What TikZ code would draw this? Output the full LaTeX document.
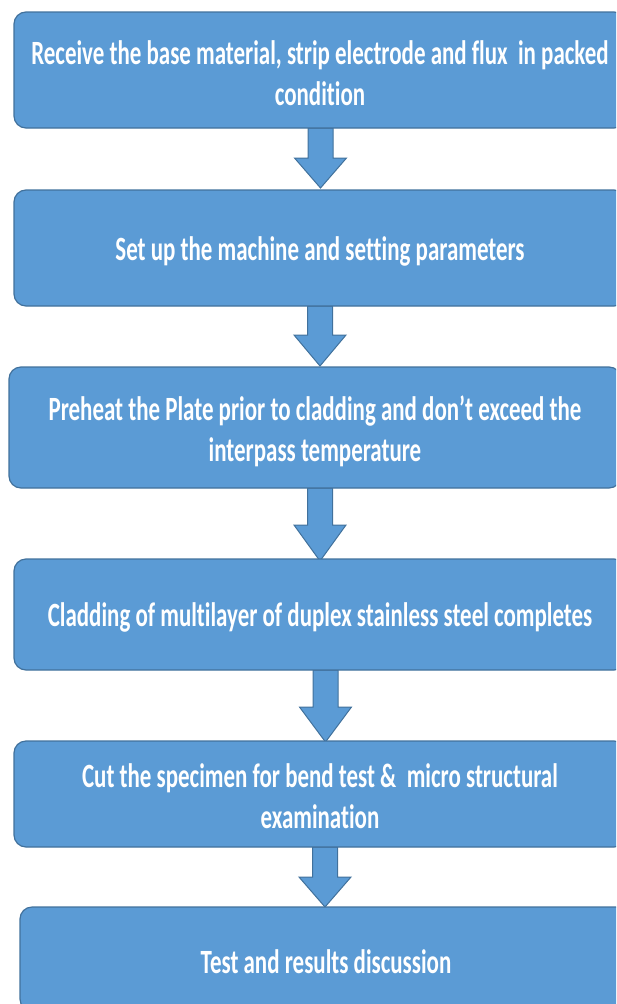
\documentclass[tikz,border=0pt]{standalone}
\usepackage{fontspec}
\newfontfamily\boxfont[FakeStretch=0.675,Ligatures=NoCommon]{Carlito}
\definecolor{boxfill}{HTML}{5B9BD5}
\definecolor{boxline}{HTML}{41719C}
\newcommand{\tstrut}[1]{\rule{0pt}{#1}}
\tikzset{
  stepbox/.style={draw=boxline, fill=boxfill, line width=1.2pt, rounded corners=12pt,
    minimum width=612pt, inner sep=0pt, align=center, text=white,
    font=\boxfont\bfseries\fontsize{34}{41}\selectfont},
  blockarr/.style={draw=boxline, fill=boxfill, line width=1pt, line join=miter}
}
% #1 name, #2 centre x, #3 top y, #4 shaft bottom y, #5 tip y
\newcommand{\blockarrow}[5]{%
  \coordinate (#1t) at (#2,#3);
  \coordinate (#1s) at (#2,#4);
  \coordinate (#1p) at (#2,#5);
  \draw[blockarr] ([xshift=-12.5pt]#1t) -- ([xshift=12.5pt]#1t) -- ([xshift=12.5pt]#1s)
    -- ([xshift=26pt]#1s) -- (#1p) -- ([xshift=-26pt]#1s) -- ([xshift=-12.5pt]#1s) -- cycle;
}
\begin{document}
\begin{tikzpicture}[x=1pt,y=-1pt]
\useasboundingbox (0,0) rectangle (616,1004);
\clip (0,0) rectangle (616,1004);
% arrows
\blockarrow{a1}{320.5}{128}{158}{188}
\blockarrow{a2}{320}{306}{335}{366}
\blockarrow{a3}{320}{488}{525}{561}
\blockarrow{a4}{325.5}{670}{707}{742}
\blockarrow{a5}{325}{847}{877}{907}
% boxes
\node[stepbox, minimum height=116pt] (b1) at (320,70) {\tstrut{31pt}Receive the base material, strip electrode and flux\ \ in packed\\condition};
\node[stepbox, minimum height=116pt] (b2) at (320,248) {\tstrut{30pt}Set up the machine and setting parameters};
\node[stepbox, minimum height=121pt] (b3) at (315,427.5) {\tstrut{33pt}Preheat the Plate prior to cladding and don’t exceed the\\interpass temperature};
\node[stepbox, minimum height=111pt] (b4) at (320,614.5) {\tstrut{30pt}Cladding of multilayer of duplex stainless steel completes};
\node[stepbox, minimum height=106pt] (b5) at (320,794) {\tstrut{29pt}Cut the specimen for bend test \&\ \ micro structural\\examination};
\node[stepbox, minimum height=104pt] (b6) at (326,959) {\tstrut{30pt}Test and results discussion};
\end{tikzpicture}
\end{document}
